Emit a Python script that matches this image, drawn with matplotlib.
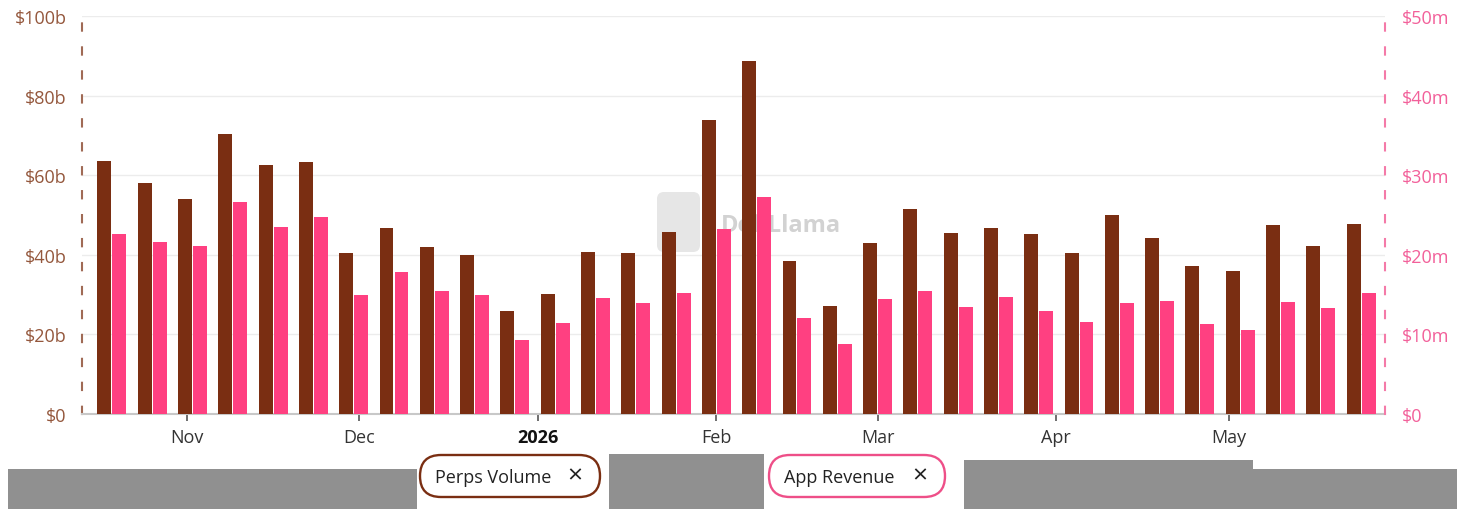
import numpy as np
import pandas as pd
import matplotlib
matplotlib.use('Agg')
import matplotlib.pyplot as plt
import matplotlib.dates as mdates
from matplotlib.patches import FancyBboxPatch, Rectangle
from matplotlib.ticker import FixedLocator, FixedFormatter

# ---------------- data ----------------
week_start = pd.date_range('2025-10-19', periods=32, freq='7D')
perps_volume_b = [63.6, 58.0, 53.9, 70.3, 62.5, 63.2, 40.4, 46.8, 42.0, 40.0,
                  26.0, 30.1, 40.8, 40.5, 45.7, 73.9, 88.8, 38.5, 27.2, 43.0,
                  51.4, 45.4, 46.7, 45.2, 40.5, 50.0, 44.1, 37.1, 35.9, 47.5,
                  42.2, 47.8]
app_revenue_m = [22.6, 21.6, 21.1, 26.6, 23.5, 24.7, 15.0, 17.8, 15.5, 14.9,
                 9.3, 11.4, 14.6, 14.0, 15.2, 23.3, 27.2, 12.1, 8.75, 14.4,
                 15.5, 13.4, 14.7, 12.9, 11.6, 14.0, 14.2, 11.3, 10.6, 14.1,
                 13.3, 15.2]
left_ticks = [0, 20, 40, 60, 80, 100]
left_labels = ['$0', '$20b', '$40b', '$60b', '$80b', '$100b']
right_ticks = [0, 10, 20, 30, 40, 50]
right_labels = ['$0', '$10m', '$20m', '$30m', '$40m', '$50m']
month_ticks = pd.to_datetime(['2025-11-01', '2025-12-01', '2026-01-01', '2026-02-01',
                              '2026-03-01', '2026-04-01', '2026-05-01'])
month_labels = ['Nov', 'Dec', '2026', 'Feb', 'Mar', 'Apr', 'May']
series_names = ['Perps Volume', 'App Revenue']

# ---------------- style ----------------
BROWN = '#7a2e12'
PINK = '#ff4081'
LBL_BROWN = '#94573c'
LBL_PINK = '#f2609a'
plt.rcParams['font.family'] = ['Open Sans', 'DejaVu Sans']

W, H = 1457, 510
fig = plt.figure(figsize=(W / 100, H / 100), dpi=100)
fig.patch.set_facecolor('white')

def px_axes(x0, y0, x1, y1):
    return [x0 / W, 1 - y1 / H, (x1 - x0) / W, (y1 - y0) / H]

ax = fig.add_axes(px_axes(82, 17, 1385, 415))
ax2 = ax.twinx()

x = mdates.date2num(week_start)
bw = 2.42
ax.bar(x - 1.3, perps_volume_b, width=bw, color=BROWN, zorder=3)
ax2.bar(x + 1.3, app_revenue_m, width=bw, color=PINK, zorder=3)

ax.set_xlim(x[0] - 5.2, x[-1] + 4.15)
ax.set_ylim(0, 100)
ax2.set_ylim(0, 50)

# grid
ax.yaxis.set_major_locator(FixedLocator(left_ticks))
ax.yaxis.set_major_formatter(FixedFormatter(left_labels))
ax2.yaxis.set_major_locator(FixedLocator(right_ticks))
ax2.yaxis.set_major_formatter(FixedFormatter(right_labels))
ax.grid(axis='y', color='#ececec', linewidth=1.0, zorder=0)
ax.set_axisbelow(True)

ax.tick_params(axis='y', length=0, pad=11, labelsize=13, labelcolor=LBL_BROWN)
ax2.tick_params(axis='y', length=0, pad=12, labelsize=13, labelcolor=LBL_PINK)

# x axis
ax.xaxis.set_major_locator(FixedLocator(mdates.date2num(month_ticks)))
ax.xaxis.set_major_formatter(FixedFormatter(month_labels))
ax.tick_params(axis='x', length=5, width=1.2, color='#555555', pad=5,
               labelsize=13, labelcolor='#333333')
for lbl in ax.get_xticklabels():
    if lbl.get_text() == '2026':
        lbl.set_fontweight('bold')
        lbl.set_color('#111111')

# spines
for s in ['top', 'right']:
    ax.spines[s].set_visible(False)
for s in ['top', 'left', 'bottom']:
    ax2.spines[s].set_visible(False)
ax.spines['bottom'].set_color('#c8c8c8')
ax.spines['bottom'].set_linewidth(1.5)
ax.spines['left'].set_color('#a06a55')
ax.spines['left'].set_linewidth(1.5)
ax.spines['left'].set_linestyle((0, (3.5, 8)))
ax2.spines['right'].set_color('#f47aa8')
ax2.spines['right'].set_linewidth(1.5)
ax2.spines['right'].set_linestyle((0, (3.5, 8)))

# watermark (behind bars)
inch = fig.dpi_scale_trans
def pin(xp, yp):
    return xp / 100, (H - yp) / 100

logo = FancyBboxPatch(pin(657, 253), 0.43, 0.60, boxstyle='round,pad=0,rounding_size=0.07',
                      transform=inch, facecolor='#e6e6e6', edgecolor='none', zorder=1,
                      clip_on=False)
ax.add_artist(logo)
ax.text(*pin(721, 226), 'DefiLlama', transform=inch, fontsize=17, fontweight='bold',
        color='#d2d2d2', ha='left', va='center', zorder=1, clip_on=False)

# bottom grey band (screenshot strip)
GREY = '#909090'
bands = [(8, 470, 417, 510), (609, 455, 764, 510), (964, 461, 1253, 510), (1253, 470, 1457, 510)]
for (x0, y0, x1, y1) in bands:
    fig.patches.append(Rectangle(pin(x0, y1), (x1 - x0) / 100, (y1 - y0) / 100,
                                 transform=inch, facecolor=GREY, edgecolor='none'))

# legend pills
pills = [(420, 456, 600, 498, BROWN, series_names[0]),
         (769, 456, 945, 498, '#ee4f88', series_names[1])]
for (x0, y0, x1, y1, col, name) in pills:
    fig.patches.append(FancyBboxPatch(pin(x0, y1), (x1 - x0) / 100, (y1 - y0) / 100,
                                      boxstyle='round,pad=0,rounding_size=0.21',
                                      transform=inch, facecolor='white', edgecolor=col,
                                      linewidth=1.7))
    fig.text(*pin(x0 + 15, (y0 + y1) / 2 + 1), name, transform=inch, fontsize=13,
             color='#222222', ha='left', va='center')
    fig.text(*pin(x1 - 25, (y0 + y1) / 2), '\u00d7', transform=inch, fontsize=19,
             color='#222222', ha='center', va='center')

fig.savefig('out.png', dpi=100)
